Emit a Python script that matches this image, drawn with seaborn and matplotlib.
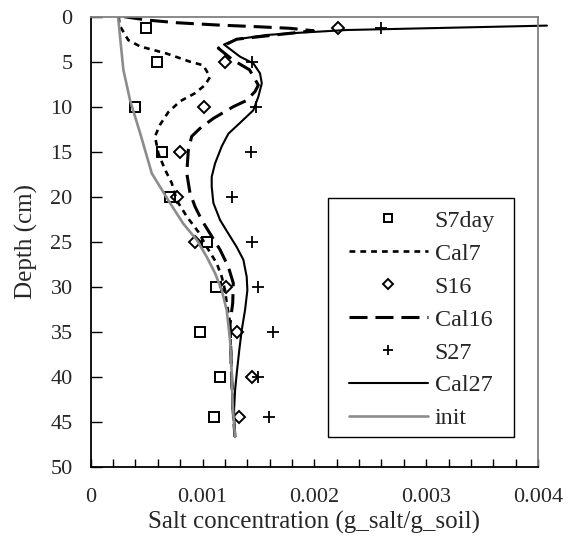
import numpy as np
import pandas as pd
import matplotlib
matplotlib.use("Agg")
import matplotlib.pyplot as plt
import seaborn as sns
from matplotlib.ticker import MultipleLocator
from matplotlib.patches import Rectangle

# ---- data ----
depth_obs = [1.3, 5, 10, 15, 20, 25, 30, 35, 40, 44.5]
s7day = [0.00049, 0.00059, 0.00040, 0.00064, 0.00071, 0.00104, 0.00112, 0.00098, 0.00116, 0.00110]
s16 = [0.00221, 0.00120, 0.00101, 0.00080, 0.00077, 0.00093, 0.00121, 0.00131, 0.00144, 0.00133]
s27 = [0.00260, 0.00144, 0.00148, 0.00143, 0.00126, 0.00144, 0.00150, 0.00163, 0.00150, 0.00159]

init_depth = [0, 2.2, 5.9, 9.3, 12.9, 17.4, 18.9, 20.7, 23.0, 24.8, 26.7, 28.5, 30.4, 32.6, 35.9, 39.6, 43.3, 46.7]
init_val = [0.000245, 0.000262, 0.000292, 0.000352, 0.000441, 0.000546, 0.000620, 0.000709, 0.000828,
            0.000948, 0.001038, 0.001112, 0.001172, 0.001216, 0.001246, 0.001261, 0.001270, 0.001291]

cal7_depth = [0, 1.0, 2.6, 3.3, 4.1, 5.0, 5.4, 6.7, 7.6, 8.5, 9.4, 10.6, 12.0, 13.3, 15.2, 17.0, 18.5,
              20.4, 22.2, 23.9, 25.6, 27.4, 28.9, 30.4, 31.8, 34.0, 39.6, 43.7, 46.7]
cal7_val = [0.000250, 0.000260, 0.000336, 0.000441, 0.000680, 0.000888, 0.001007, 0.001067, 0.001022,
            0.000933, 0.000799, 0.000694, 0.000620, 0.000575, 0.000605, 0.000665, 0.000725, 0.000769,
            0.000859, 0.000962, 0.001038, 0.001127, 0.001172, 0.001201, 0.001216, 0.001246, 0.001259,
            0.001273, 0.001290]

cal16_depth = [0, 0.37, 0.67, 0.92, 1.11, 1.29, 1.56, 2.5, 3.5, 4.8, 5.9, 7.6, 8.3, 9.3, 10.0, 11.3,
               12.4, 13.3, 14.8, 17.4, 19.6, 21.1, 22.6, 24.4, 25.9, 27.8, 29.6, 31.8, 34.1, 39.6, 43.7, 46.7]
cal16_val = [0.000300, 0.000501, 0.000769, 0.001127, 0.001485, 0.001783, 0.001991, 0.001306, 0.001141,
             0.001270, 0.001420, 0.001499, 0.001470, 0.001395, 0.001275, 0.001097, 0.000978, 0.000903,
             0.000873, 0.000859, 0.000888, 0.000933, 0.000993, 0.001082, 0.001157, 0.001231, 0.001275,
             0.001270, 0.001246, 0.001259, 0.001273, 0.001290]

cal27_depth = [0.99, 1.48, 1.78, 2.03, 2.51, 3.09, 4.44, 5.18, 6.29, 7.4, 8.9, 10.4, 11.8, 13.0, 14.4,
               16.3, 17.8, 18.9, 20.7, 22.6, 24.1, 25.6, 27.0, 28.9, 30.4, 32.6, 34.8, 37.0, 39.6, 41.5,
               43.7, 46.7]
cal27_val = [0.00408, 0.00229, 0.001872, 0.001574, 0.001306, 0.001192, 0.001335, 0.001454, 0.001514,
             0.001530, 0.001499, 0.001454, 0.001335, 0.001231, 0.001172, 0.001112, 0.001082, 0.001082,
             0.001097, 0.001157, 0.001231, 0.001306, 0.001365, 0.001395, 0.001401, 0.001380, 0.001351,
             0.001329, 0.001306, 0.001291, 0.001282, 0.001290]

x_ticks = [0, 0.001, 0.002, 0.003, 0.004]
x_tick_labels = ["0", "0.001", "0.002", "0.003", "0.004"]
y_ticks = [0, 5, 10, 15, 20, 25, 30, 35, 40, 45, 50]

# ---- style ----
sns.set_theme(style="ticks")
plt.rcParams["font.family"] = ["Liberation Serif", "DejaVu Serif"]
FS_TICK = 16
FS_LAB = 18
FS_LEG = 17.4

fig = plt.figure(figsize=(5.76, 5.51), dpi=100)
ax = fig.add_axes([0.1575, 0.153, 0.7765, 0.8167])

def line(xv, yv, **kw):
    sns.lineplot(x=xv, y=yv, ax=ax, sort=False, estimator=None, **kw)

line(s7day, depth_obs, label="S7day", marker="s", linestyle="", markersize=7.2,
     markerfacecolor="none", markeredgecolor="black", markeredgewidth=1.4, color="black")
line(cal7_val, cal7_depth, label="Cal7", color="black", linewidth=1.9, dashes=(2.2, 1.9))
line(s16, depth_obs, label="S16", marker="D", linestyle="", markersize=6.4,
     markerfacecolor="none", markeredgecolor="black", markeredgewidth=1.4, color="black")
line(cal16_val, cal16_depth, label="Cal16", color="black", linewidth=2.2, dashes=(5.9, 2.6))
line(s27, depth_obs, label="S27", marker="+", linestyle="", markersize=9,
     markeredgecolor="black", markeredgewidth=1.3, color="black")
line(cal27_val, cal27_depth, label="Cal27", color="black", linewidth=1.5, clip_on=False)
line(init_val, init_depth, label="init", color="#8c8c8c", linewidth=1.9)

ax.set_xlim(0, 0.004)
ax.set_ylim(50, 0)
ax.set_xticks(x_ticks)
ax.set_xticklabels(x_tick_labels)
ax.xaxis.set_minor_locator(MultipleLocator(0.0002))
ax.set_yticks(y_ticks)
ax.tick_params(axis="x", which="both", direction="in", length=6, width=1, color="black",
               bottom=True, top=False, labelsize=FS_TICK, pad=15)
ax.tick_params(axis="y", which="major", direction="in", length=8, width=1, color="black",
               left=True, right=False, labelsize=FS_TICK, pad=13)
ax.set_xlabel("Salt concentration (g_salt/g_soil)", fontsize=FS_LAB, labelpad=3)
ax.set_ylabel("Depth (cm)", fontsize=FS_LAB, labelpad=9)

for s in ["left", "bottom"]:
    ax.spines[s].set_visible(True)
    ax.spines[s].set_color("black")
    ax.spines[s].set_linewidth(1.3)
for s in ["top", "right"]:
    ax.spines[s].set_visible(True)
    ax.spines[s].set_color("#808080")
    ax.spines[s].set_linewidth(1.3)

# legend frame (plain box) and legend entries
frame = Rectangle((328 / 576, 1 - 437 / 551), 186 / 576, 239 / 551, transform=fig.transFigure,
                  facecolor="white", edgecolor="black", linewidth=1.0, zorder=4, clip_on=False)
ax.add_patch(frame)

handles, labels = ax.get_legend_handles_labels()
leg = ax.legend(handles, labels, loc="upper left", bbox_to_anchor=(349 / 576, 1 - 210 / 551),
                bbox_transform=fig.transFigure, fontsize=FS_LEG, frameon=False,
                borderpad=0, labelspacing=0.455, handlelength=3.26, handletextpad=0.29,
                borderaxespad=0, markerscale=0.75)
leg.set_zorder(5)

fig.savefig("out.png", dpi=100)
